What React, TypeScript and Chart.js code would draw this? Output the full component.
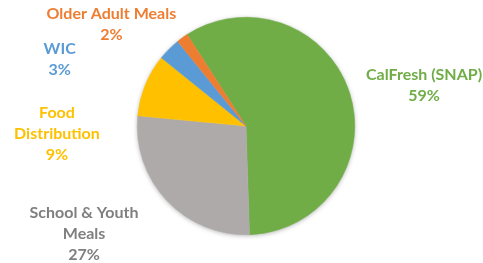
import React, { useEffect, useRef } from "react";
import { Chart, registerables } from "chart.js";

Chart.register(...registerables);

const categories = ["CalFresh (SNAP)", "School & Youth Meals", "Food Distribution", "WIC", "Older Adult Meals"];
const labelLines = [["CalFresh (SNAP)"], ["School & Youth", "Meals"], ["Food", "Distribution"], ["WIC"], ["Older Adult Meals"]];
const values = [58.6, 27.0, 9.3, 3.4, 1.7];
const sliceColors = ["#70AD47", "#AEAAAA", "#FFC000", "#5B9BD5", "#ED7D31"];
const labelColors = ["#70AD47", "#7F7F7F", "#FFC000", "#5B9BD5", "#ED7D31"];
// label anchor: angle (deg clockwise from top) and distance in units of radius
const labelAnchors = [
  { angle: 77, dist: 1.68 },
  { angle: 236.3, dist: 1.79 },
  { angle: 267.6, dist: 1.74 },
  { angle: 289.7, dist: 1.82 },
  { angle: 307, dist: 1.55 },
];

const shadowPlugin = {
  id: "pieShadow",
  beforeDatasetsDraw(chart: any) {
    const arc = chart.getDatasetMeta(0).data[0];
    if (!arc) return;
    const { x, y, outerRadius } = arc.getProps(["x", "y", "outerRadius"], true);
    const ctx = chart.ctx;
    ctx.save();
    ctx.shadowColor = "rgba(0,0,0,0.35)";
    ctx.shadowBlur = 5;
    ctx.shadowOffsetX = 0;
    ctx.shadowOffsetY = 1;
    ctx.fillStyle = "#ffffff";
    ctx.beginPath();
    ctx.arc(x, y, outerRadius - 0.5, 0, Math.PI * 2);
    ctx.fill();
    ctx.restore();
  },
};

const labelPlugin = {
  id: "outerLabels",
  afterDatasetsDraw(chart: any) {
    const meta = chart.getDatasetMeta(0);
    const arc0 = meta.data[0];
    if (!arc0) return;
    const { x, y, outerRadius } = arc0.getProps(["x", "y", "outerRadius"], true);
    const ctx = chart.ctx;
    const total = values.reduce((a, b) => a + b, 0);
    ctx.save();
    ctx.font = "bold 16px Lato, 'Open Sans', sans-serif";
    ctx.textAlign = "center";
    ctx.textBaseline = "middle";
    const lh = 21;
    values.forEach((v, i) => {
      const a = (labelAnchors[i].angle * Math.PI) / 180;
      const cx = x + Math.sin(a) * outerRadius * labelAnchors[i].dist;
      const cy = y - Math.cos(a) * outerRadius * labelAnchors[i].dist;
      const lines = [...labelLines[i], Math.round((v / total) * 100) + "%"];
      const start = cy - ((lines.length - 1) * lh) / 2;
      ctx.fillStyle = labelColors[i];
      lines.forEach((t, j) => ctx.fillText(t, cx, start + j * lh));
    });
    ctx.restore();
  },
};

export default function App() {
  const ref = useRef<HTMLCanvasElement>(null);
  useEffect(() => {
    document.body.style.margin = "0";
    const chart = new Chart(ref.current!, {
      type: "pie",
      data: {
        labels: categories,
        datasets: [
          {
            data: values,
            backgroundColor: sliceColors,
            borderColor: sliceColors,
            borderWidth: 0.5,
          },
        ],
      },
      options: {
        animation: false,
        responsive: false,
        rotation: -32.8,
        layout: { padding: { top: 17, bottom: 28, left: 9, right: 0 } },
        plugins: { legend: { display: false }, tooltip: { enabled: false } },
      },
      plugins: [shadowPlugin, labelPlugin],
    });
    return () => chart.destroy();
  }, []);
  return (
    <div style={{ width: 483, height: 263, background: "#fff" }}>
      <canvas ref={ref} width={483} height={263} />
    </div>
  );
}
